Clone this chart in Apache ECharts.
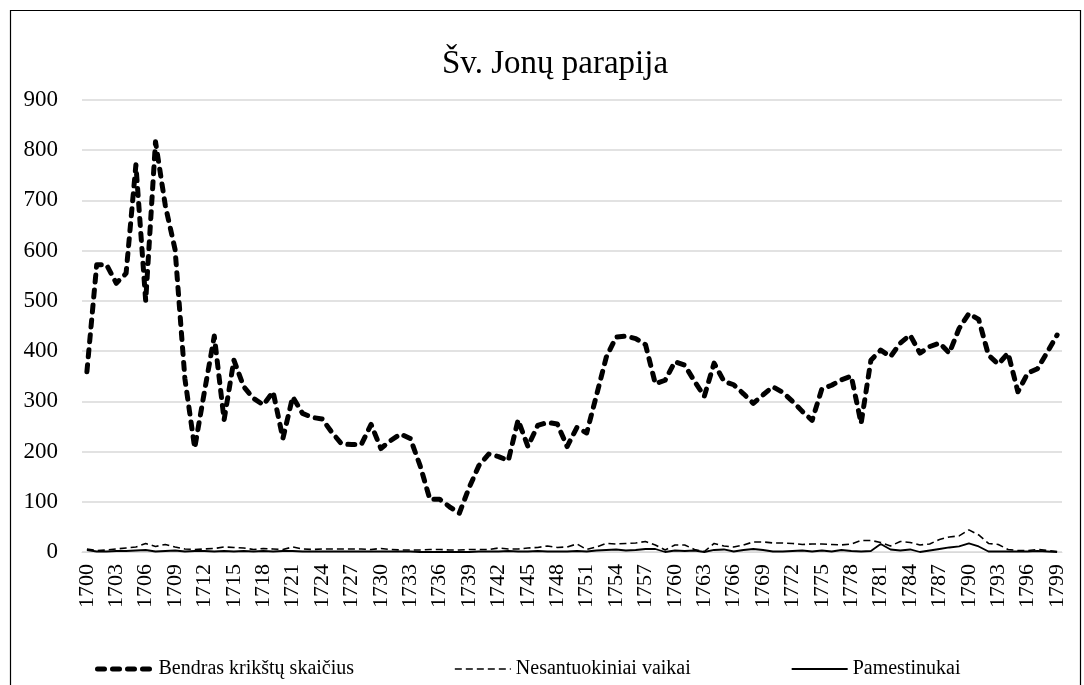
<!DOCTYPE html>
<html>
<head>
<meta charset="utf-8">
<script src="https://cdn.jsdelivr.net/npm/echarts@6/dist/echarts.min.js"></script>
<style>
html,body{margin:0;padding:0;background:#fff;}
#chart{width:1084px;height:685px;}
</style>
</head>
<body>
<div id="chart"></div>
<script>
var years = [];
for (var y = 1700; y <= 1799; y++) years.push(String(y));

var bendras = [359,572,572,535,555,771,500,817,690,602,
345,207,320,430,263,382,329,306,293,319,
226,309,276,268,265,238,215,214,214,254,
206,222,235,226,172,105,105,90,77,128,
172,195,190,182,263,210,252,258,255,210,
248,237,312,388,428,430,425,413,335,342,
379,372,340,310,376,340,333,315,296,313,
329,318,300,280,262,325,332,343,350,256,
382,402,389,416,432,396,409,416,396,445,
475,463,392,374,396,319,356,365,398,432];

var nesantuokiniai = [6,3,4,6,8,10,17,11,15,10,
6,5,6,7,10,9,8,5,7,6,
5,10,6,5,6,6,6,6,6,5,
7,5,4,4,4,5,5,4,4,5,
5,5,8,6,6,8,9,12,9,10,
16,5,10,17,16,17,18,21,14,4,
14,14,5,1,17,12,10,14,20,20,
18,18,17,15,16,16,15,14,16,23,
23,19,12,21,19,14,16,25,30,32,
44,34,17,15,5,3,3,5,3,1];

var pamestinukai = [4,1,1,2,2,3,4,1,2,3,
1,2,2,1,2,1,2,1,2,1,
2,2,1,1,1,1,1,1,1,1,
1,1,1,1,0,0,0,0,0,0,
1,1,1,2,1,1,2,1,1,1,
2,1,3,4,5,3,4,6,6,0,
3,2,3,0,4,5,1,4,6,4,
1,1,2,3,1,3,1,4,2,1,
2,16,5,3,5,0,3,6,9,11,
17,11,1,1,1,1,1,2,1,0];

var yTicks = [0,100,200,300,400,500,600,700,800,900];
var seriesNames = ['Bendras krikštų skaičius', 'Nesantuokiniai vaikai', 'Pamestinukai'];

var FONT = '"Liberation Serif","Times New Roman",serif';
var thickStyle = {color: '#000', width: 5, type: [7, 8], cap: 'round', join: 'round'};
var thinStyle = {color: '#000', width: 1.6, type: [7, 4]};
var solidStyle = {color: '#000', width: 1.8, type: 'solid'};

var chart = echarts.init(document.getElementById('chart'));
chart.setOption({
  animation: false,
  backgroundColor: '#fff',
  textStyle: {fontFamily: FONT, color: '#000'},
  graphic: [{
    type: 'rect',
    shape: {x: 10.5, y: 10.5, width: 1070, height: 700},
    style: {fill: 'none', stroke: '#000', lineWidth: 1.2},
    silent: true
  }],
  title: {
    text: 'Šv. Jonų parapija',
    left: 437,
    top: 43,
    textStyle: {fontFamily: FONT, fontSize: 33, fontWeight: 'normal', color: '#000'}
  },
  legend: {
    bottom: 1,
    left: 90,
    itemWidth: 56,
    itemHeight: 14,
    itemGap: 100,
    itemStyle: {opacity: 0},
    textStyle: {fontFamily: FONT, fontSize: 20, color: '#000'},
    data: [
      {name: seriesNames[0], lineStyle: {width: 5, type: [7, 8], cap: 'round', color: '#000'}},
      {name: seriesNames[1], lineStyle: {width: 1.6, type: [7, 4], color: '#000'}},
      {name: seriesNames[2], lineStyle: {width: 1.8, type: 'solid', color: '#000'}}
    ]
  },
  grid: {left: 82, right: 22, top: 100, bottom: 133},
  xAxis: {
    type: 'category',
    data: years,
    boundaryGap: true,
    axisLine: {lineStyle: {color: '#d9d9d9', width: 1}},
    axisTick: {show: false},
    axisLabel: {interval: 2, rotate: 90, margin: 12, fontFamily: FONT, fontSize: 22, color: '#000'}
  },
  yAxis: {
    type: 'value',
    min: yTicks[0],
    max: yTicks[yTicks.length - 1],
    interval: 100,
    axisLine: {show: false},
    axisTick: {show: false},
    splitLine: {lineStyle: {color: '#d9d9d9', width: 1.5}},
    axisLabel: {margin: 24, fontFamily: FONT, fontSize: 23, color: '#000'}
  },
  series: [
    {
      name: seriesNames[0],
      type: 'line',
      data: bendras,
      symbol: 'none',
      lineStyle: thickStyle,
      itemStyle: {color: '#000'},
      z: 3
    },
    {
      name: seriesNames[1],
      type: 'line',
      data: nesantuokiniai,
      symbol: 'none',
      lineStyle: thinStyle,
      itemStyle: {color: '#000'},
      z: 2
    },
    {
      name: seriesNames[2],
      type: 'line',
      data: pamestinukai,
      symbol: 'none',
      lineStyle: solidStyle,
      itemStyle: {color: '#000'},
      z: 2
    }
  ]
});
</script>
</body>
</html>
